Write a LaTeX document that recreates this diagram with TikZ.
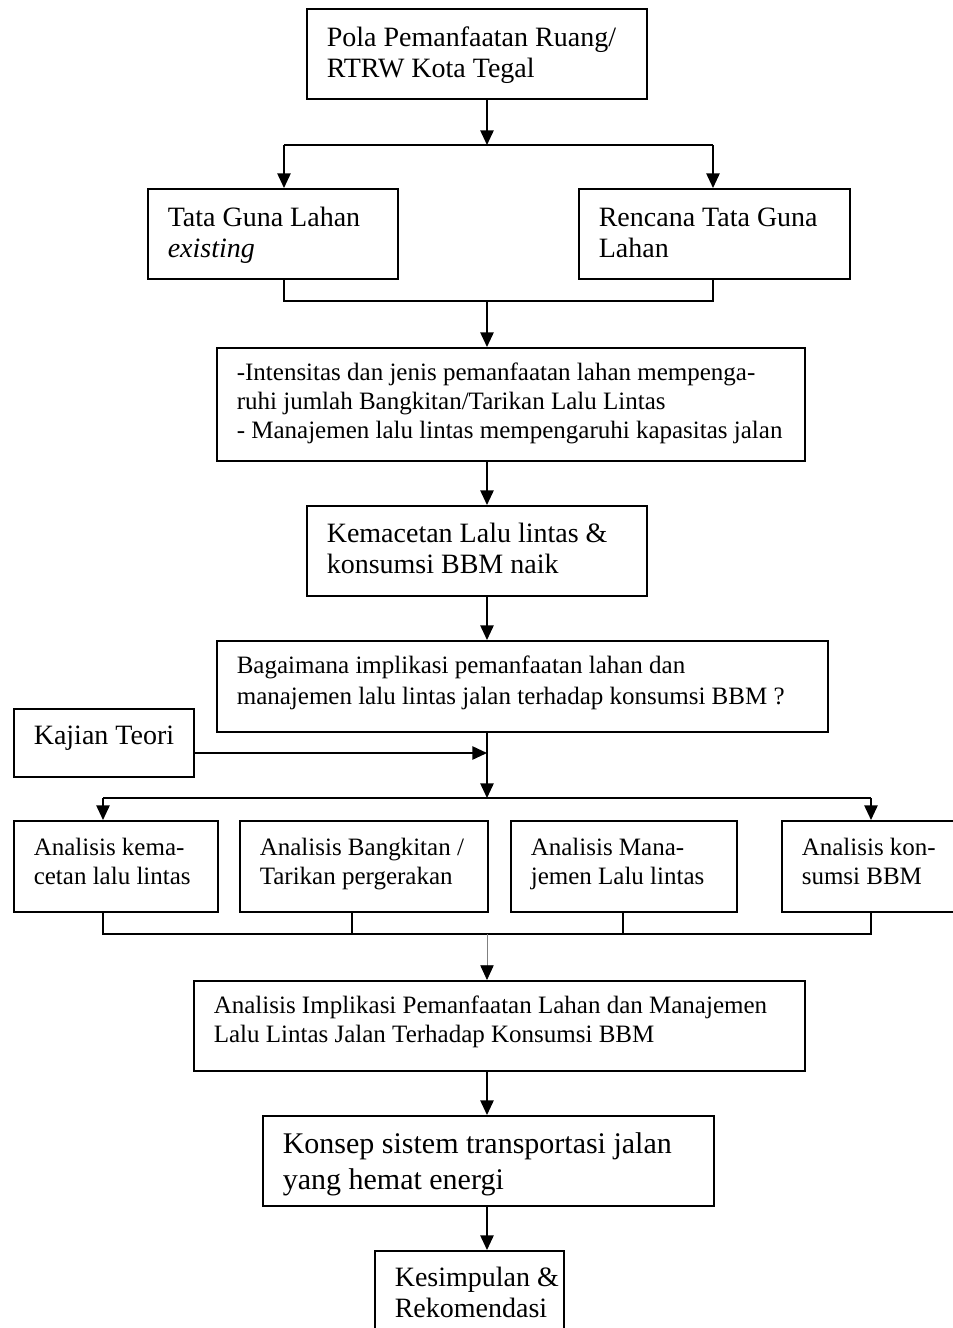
\documentclass[tikz,border=0pt]{standalone}
\usepackage{fontspec}
\setmainfont{Liberation Serif}
\usetikzlibrary{arrows.meta}
\newdimen\px \px=0.75pt
\newcommand{\isi}[4]{\parbox[c][#2\px][t]{#1\px}{\raggedright\parskip=0pt\leftskip=20\px\rightskip=-60\px plus 1fil\rule{0pt}{#3\px}#4}}
\tikzset{
kotak/.style={draw, anchor=north west, inner sep=0pt},
besar/.style={font=\fontsize{21}{23.25}\selectfont},
sedang/.style={font=\fontsize{18.75}{23.25}\selectfont},
kecil/.style={font=\fontsize{18.75}{21.75}\selectfont},
judul/.style={font=\fontsize{22.5}{27}\selectfont},
panah/.style={-{Triangle[length=11pt,width=10pt]}},
tipis/.style={draw=gray, line width=0.6pt, -{Triangle[length=11pt,width=10pt,black]}}
}
\begin{document}
\begin{tikzpicture}[x=0.75pt, y=-0.75pt, line width=1.2pt]
\useasboundingbox (0,0) rectangle (953,1328);
\node[kotak, besar] (pola) at (306,8) {\isi{340}{90}{38}{Pola Pemanfaatan Ruang/\\RTRW Kota Tegal}};
\node[kotak, besar] (tgl) at (147,188) {\isi{250}{90}{38}{Tata Guna Lahan\\\textit{existing}}};
\node[kotak, besar] (rtgl) at (578,188) {\isi{271}{90}{38}{Rencana Tata Guna\\Lahan}};
\node[kotak, kecil] (intensitas) at (216,347) {\isi{588}{113}{33}{-Intensitas dan jenis pemanfaatan lahan mempenga-\\ruhi jumlah Bangkitan/Tarikan Lalu Lintas\\- Manajemen lalu lintas mempengaruhi kapasitas jalan}};
\node[kotak, besar] (macet) at (306,505) {\isi{340}{90}{37}{Kemacetan Lalu lintas \&\\konsumsi BBM naik}};
\node[kotak, sedang] (tanya) at (216,640) {\isi{611}{91}{33}{Bagaimana implikasi pemanfaatan lahan dan\\manajemen lalu lintas jalan terhadap konsumsi BBM ?}};
\node[kotak, besar] (kajian) at (13,708) {\isi{180}{68}{36}{Kajian Teori}};
\node[kotak, kecil] (an1) at (13,820) {\isi{204}{91}{35}{Analisis kema-\\cetan lalu lintas}};
\node[kotak, kecil] (an2) at (239,820) {\isi{248}{91}{35}{Analisis Bangkitan /\\Tarikan pergerakan}};
\node[kotak, kecil] (an3) at (510,820) {\isi{226}{91}{35}{Analisis Mana-\\jemen Lalu lintas}};
\node[kotak, kecil] (an4) at (781,820) {\isi{180}{91}{35}{Analisis kon-\\sumsi BBM}};
\node[kotak, kecil] (implikasi) at (193,980) {\isi{611}{90}{33}{Analisis Implikasi Pemanfaatan Lahan dan Manajemen\\Lalu Lintas Jalan Terhadap Konsumsi BBM}};
\node[kotak, judul] (konsep) at (262,1115) {\isi{451}{90}{38}{Konsep sistem transportasi jalan\\yang hemat energi}};
\node[kotak, besar] (simpul) at (374,1250) {\isi{189}{100}{36}{Kesimpulan \&\\Rekomendasi}};

\coordinate (s1) at (487,145);
\coordinate (j1) at (284,145);
\coordinate (j2) at (713,145);
\coordinate (s2) at (487,301);
\coordinate (j3) at (284,301);
\coordinate (j4) at (713,301);
\coordinate (kt) at (487,753);
\coordinate (s3) at (487,798);
\coordinate (b1) at (103,798);
\coordinate (b4) at (871,798);
\coordinate (s4) at (487,934);
\coordinate (c1) at (103,934);
\coordinate (c2) at (352,934);
\coordinate (c3) at (623,934);
\coordinate (c4) at (871,934);

\draw[panah] (pola.south -| s1) -- (s1);
\draw[] (j1) -- (j2);
\draw[panah] (j1) -- (j1 |- tgl.north);
\draw[panah] (j2) -- (j2 |- rtgl.north);
\draw[] (j3 |- tgl.south) -- (j3) -- (j4) -- (j4 |- rtgl.south);
\draw[panah] (s2) -- (s2 |- intensitas.north);
\draw[panah] (intensitas.south -| s2) -- (macet.north -| s2);
\draw[panah] (macet.south -| s2) -- (tanya.north -| s2);
\draw[panah] (tanya.south -| s3) -- (s3);
\draw[panah] (kajian.east |- kt) -- (kt);
\draw[] (b1) -- (b4);
\draw[panah] (b1) -- (b1 |- an1.north);
\draw[panah] (b4) -- (b4 |- an4.north);
\draw[] (c1 |- an1.south) -- (c1) -- (c4) -- (c4 |- an4.south);
\draw[] (c2 |- an2.south) -- (c2);
\draw[] (c3 |- an3.south) -- (c3);
\draw[tipis] (s4) -- (s4 |- implikasi.north);
\draw[panah] (implikasi.south -| s4) -- (konsep.north -| s4);
\draw[panah] (konsep.south -| s4) -- (simpul.north -| s4);

\end{tikzpicture}
\end{document}
